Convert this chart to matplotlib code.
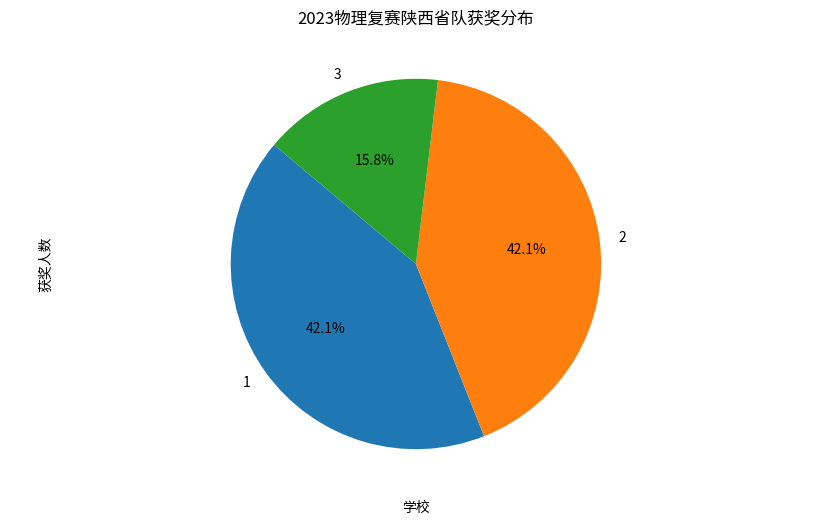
import matplotlib
matplotlib.use('Agg')
import matplotlib.pyplot as plt

plt.rcParams['font.family'] = ['Noto Sans CJK SC', 'DejaVu Sans']
plt.rcParams['axes.unicode_minus'] = False

# 各学校获奖人数
schools = ['1', '2', '3']
counts = [8, 8, 3]

fig = plt.figure(figsize=(8.13, 5.22), dpi=100)
ax = fig.add_axes([0.0726, 0.0508, 0.878, 0.887])
ax.pie(counts, labels=schools, autopct='%1.1f%%', startangle=140)
ax.set_title('2023物理复赛陕西省队获奖分布')
ax.set_xlabel('学校')
ax.set_ylabel('获奖人数')
ax.set_aspect('equal', adjustable='datalim')
ax.set_ylim(-1.25, 1.25)
fig.savefig('out.png')
